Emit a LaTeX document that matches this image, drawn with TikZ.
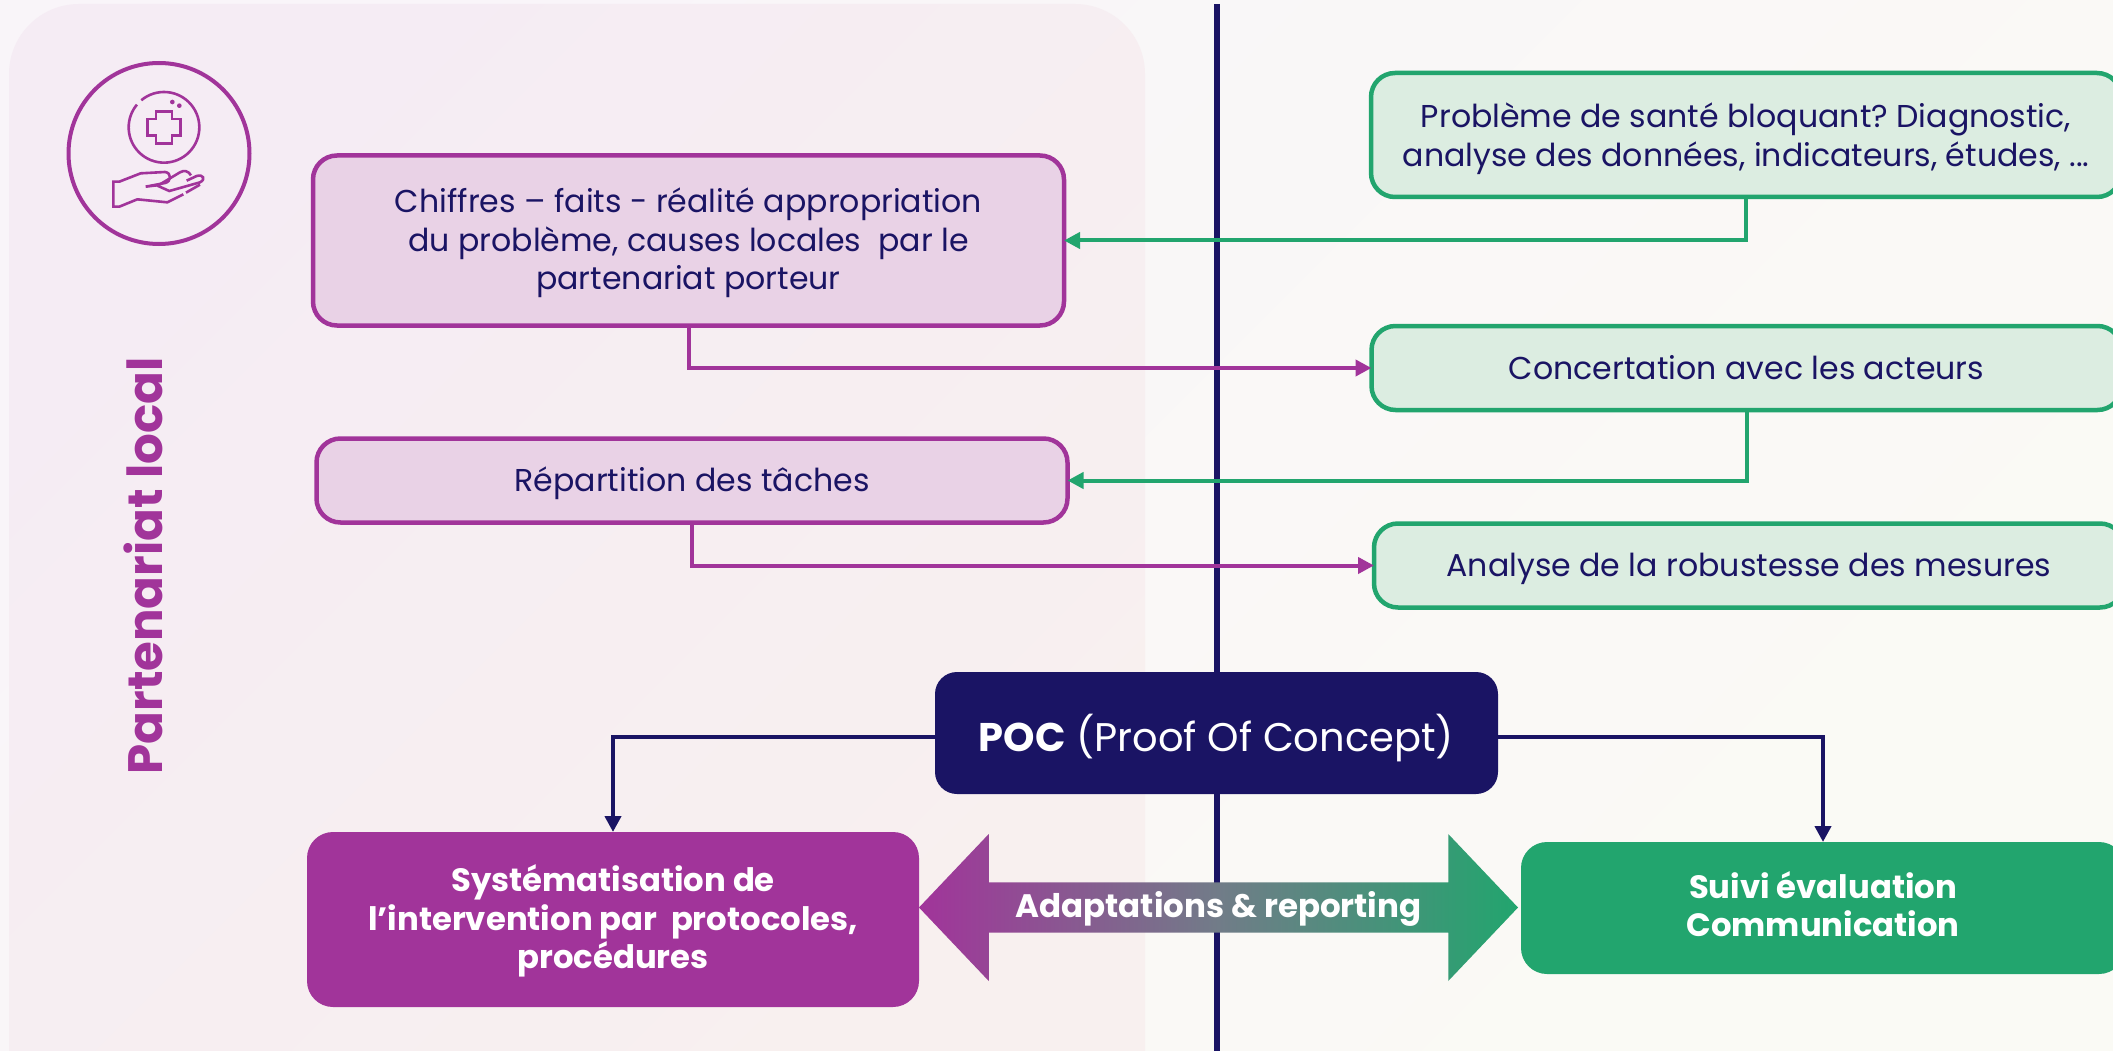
\documentclass[tikz,border=0pt]{standalone}
\usepackage{fontspec}
\setmainfont{Poppins}
\frenchspacing
\usetikzlibrary{arrows.meta,shapes.arrows}

\definecolor{violetc}{HTML}{A1349A}
\definecolor{navyc}{HTML}{1A1464}
\definecolor{greenc}{HTML}{22A56E}
\definecolor{violetl}{HTML}{E9D2E6}
\definecolor{greenl}{HTML}{DCEDE1}
\definecolor{greymid}{HTML}{717C88}
\definecolor{bgone}{HTML}{F9F5F9}
\definecolor{bgtwo}{HTML}{FEF9F5}
\definecolor{bgthree}{HTML}{FAFAF5}
\definecolor{panone}{HTML}{F5ECF4}
\definecolor{pantwo}{HTML}{F8F0EF}

\newcommand{\tall}[1]{\rule{0pt}{#1}}

\tikzset{
  level/.style={execute at begin node={\rule{0pt}{30pt}}, execute at end node={\rule[-8pt]{0pt}{8pt}}},
  pad/.style={execute at begin node={\rule{0pt}{#1}}},
  txt/.style={level, font=\fontsize{31.6}{38.5}\selectfont, text=navyc, align=center},
  boxv/.style={txt, draw=violetc, fill=violetl, line width=4.5pt, rounded corners=24pt, inner sep=0pt, outer sep=0pt},
  boxg/.style={txt, draw=greenc, fill=greenl, line width=4.5pt, rounded corners=24pt, inner sep=0pt, outer sep=0pt},
  boxs/.style={level, font=\fontsize{32.3}{38.5}\selectfont\bfseries, text=white, align=center, rounded corners=26pt, inner sep=0pt, outer sep=0pt},
  linkv/.style={draw=violetc, line width=4pt, -{Triangle[length=16pt,width=16pt]}},
  linkg/.style={draw=greenc, line width=4pt, -{Triangle[length=16pt,width=16pt]}},
  linkn/.style={draw=navyc, line width=4pt, -{Triangle[length=16pt,width=16pt]}},
  icon/.style={draw=violetc, line width=2.6pt}
}

\begin{document}
\begin{tikzpicture}[x=1pt,y=-1pt]
  \useasboundingbox (0,0) rectangle (2113,1051);
  \shade[left color=bgone, middle color=bgtwo, right color=bgthree, shading angle=45] (0,0) rectangle (2113,1051);
  \shade[left color=panone, right color=pantwo, shading angle=45, rounded corners=70pt] (9,4) rectangle (1145,1130);
  \draw[navyc, line width=6pt] (1217,4) -- (1217,1051);

  \node[draw=violetc, line width=4pt, circle, minimum size=181pt, inner sep=0pt] (badge) at (159,153.5) {};
  \begin{scope}[scale=1/3]
    \draw[icon] (423.9,300.8) arc (130:-220:106pt);
    \fill[violetc] (517,306) circle (7pt) (538,317) circle (7pt);
    \draw[icon] (468,334) -- (516,334) -- (516,357) -- (542,357) -- (542,406) -- (516,406) -- (516,431) -- (468,431) -- (468,406) -- (443,406) -- (443,357) -- (468,357) -- cycle;
    \draw[icon] (550,583) -- (502,607) -- (412,598) -- (358,620) -- (340,620) -- (340,545) -- (358,545) -- (422,520) -- (495,516) .. controls (515,518) and (515,545) .. (495,549) -- (437,560) -- (470,556) -- (508,573) -- (600,547) .. controls (618,538) and (610,522) .. (590,528) -- (560,542);
    \draw[icon] (480,553) -- (540,517) .. controls (552,510) and (565,512) .. (573,526);
    \draw[icon] (558,578) -- (600,554);
  \end{scope}

  \node[font=\fontsize{48.3}{52}\selectfont\bfseries, text=violetc, rotate=90, inner sep=0pt] (title) at (143,566) {Partenariat local};

  \node[boxv, minimum width=751pt, minimum height=170pt] (chiffres) at (688.5,240.5) {\tall{30pt}Chiffres – faits - réalité appropriation\\du problème, causes locales\ \ par le\\partenariat porteur};
  \node[boxv, minimum width=751pt, minimum height=84pt] (taches) at (692,480.5) {Répartition des tâches};
  \node[boxg, minimum width=750pt, minimum height=124pt] (sante) at (1746,135) {\tall{32pt}Problème de santé bloquant? Diagnostic,\\analyse des données, indicateurs, études, ...};
  \node[boxg, minimum width=750pt, minimum height=84pt] (acteurs) at (1746.5,368) {Concertation avec les acteurs};
  \node[boxg, minimum width=750pt, minimum height=84pt] (mesures) at (1749,565.5) {Analyse de la robustesse des mesures};

  \node[boxs, fill=navyc, rounded corners=22pt, pad=47pt, minimum width=563pt, minimum height=122pt, font=\fontsize{40}{46}\selectfont] (poc) at (1216.5,733) {\textbf{POC} (Proof Of Concept)};
  \node[boxs, fill=violetc, minimum width=612pt, minimum height=175pt] (syst) at (613,919.5) {\tall{30pt}Systématisation de\\l’intervention par\ \ protocoles,\\procédures};
  \node[boxs, fill=greenc, minimum width=604pt, minimum height=132pt] (suivi) at (1823,908) {\tall{27pt}Suivi évaluation\\Communication};

  \node[double arrow, left color=violetc, right color=greenc, middle color=greymid, minimum width=147pt, minimum height=599pt, double arrow head extend=37pt, double arrow tip angle=93, inner sep=0pt, outer sep=0pt, font=\fontsize{32.5}{38.5}\selectfont\bfseries, text=white] (adapt) at (1218.5,907.5) {\rule[-8pt]{0pt}{37pt}Adaptations \& reporting};

  \draw[linkg] (sante.south) |- (chiffres.east);
  \draw[linkv] (chiffres.south) |- (acteurs.west);
  \draw[linkg] (acteurs.south) |- (taches.east);
  \draw[linkv] (taches.south) |- (mesures.west);
  \draw[linkn] ([yshift=-4pt]poc.west) -| (syst.north);
  \draw[linkn] ([yshift=-4pt]poc.east) -| (suivi.north);
\end{tikzpicture}
\end{document}
